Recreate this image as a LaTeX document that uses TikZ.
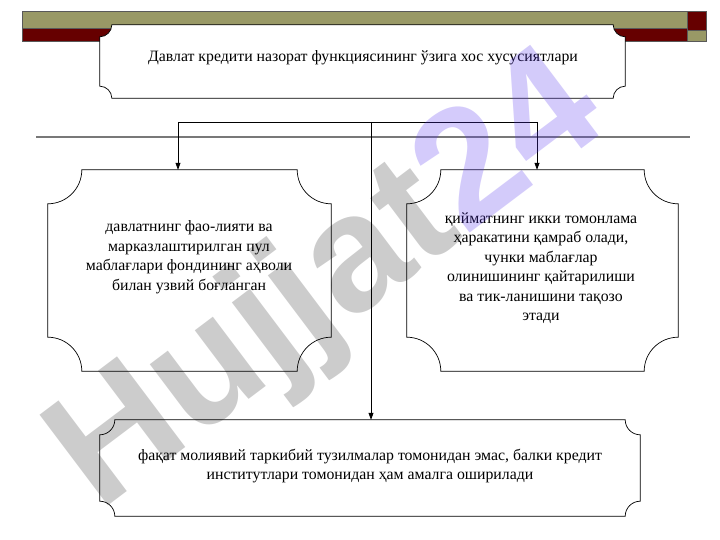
\documentclass[tikz,border=0pt]{standalone}
\usepackage{fontspec}
\setmainfont{Liberation Serif}
\newfontfamily\wmfont{Liberation Sans}
\usetikzlibrary{arrows.meta,calc}
\definecolor{olivebar}{RGB}{153,153,102}
\definecolor{darkredbar}{RGB}{102,0,0}
\definecolor{sepgray}{RGB}{120,120,120}
\definecolor{wmgray}{RGB}{0,0,0}
\definecolor{wmviolet}{RGB}{88,55,238}
\newcommand\plaqueoutline[2]{%
  \draw[plaqueline] let \p1=(#1.north west), \p2=(#1.south east) in
    (\x1,\y1-#2) arc[start angle=270,end angle=360,radius=#2]
    -- (\x2-#2,\y1) arc[start angle=180,end angle=270,radius=#2]
    -- (\x2,\y2+#2) arc[start angle=90,end angle=180,radius=#2]
    -- (\x1+#2,\y2) arc[start angle=0,end angle=90,radius=#2]
    -- cycle;}
\begin{document}
\begin{tikzpicture}[x=1pt,y=1pt,
  boxarea/.style={rectangle,inner sep=0pt,draw=none},
  plaqueline/.style={draw=black,line width=0.7pt,fill=white},
  txt/.style={align=center,inner sep=0pt,font=\fontsize{15.8}{19.5}\selectfont},
  conn/.style={draw=black,line width=0.7pt},
  arr/.style={conn,-{Triangle[length=7pt,width=5pt]}},
  barpart/.style={draw=black!65,line width=0.6pt}]
\useasboundingbox (0,0) rectangle (720,-540);
% top bars
\fill[olivebar,barpart] (22,-11) rectangle (687,-28);
\fill[darkredbar,barpart] (22,-28) rectangle (687,-41);
\fill[darkredbar,barpart] (687,-11) rectangle (706,-30);
\fill[olivebar,barpart] (687,-30) rectangle (706,-41);
% box areas
\node[boxarea,minimum width=525pt,minimum height=73pt] (topbox) at (362.5,-61.5) {};
\node[boxarea,minimum width=283pt,minimum height=201pt] (leftbox) at (189.5,-270.5) {};
\node[boxarea,minimum width=271pt,minimum height=201pt] (rightbox) at (542.5,-270.5) {};
\node[boxarea,minimum width=540pt,minimum height=96pt] (bottombox) at (370,-468) {};
\plaqueoutline{topbox}{12pt}
\plaqueoutline{leftbox}{34pt}
\plaqueoutline{rightbox}{34pt}
\plaqueoutline{bottombox}{15pt}
% texts
\node[txt] (toptext) at (363,-58) {Давлат кредити назорат функциясининг ўзига хос хусусиятлари};
\node[txt] (lefttext) at (189,-257) {давлатнинг фао-лияти ва\\марказлаштирилган пул\\маблағлари фондининг аҳволи\\билан узвий боғланган};
\node[txt] (righttext) at (541,-268) {қийматнинг икки томонлама\\ҳаракатини қамраб олади,\\чунки маблағлар\\олинишининг қайтарилиши\\ва тик-ланишини тақозо\\этади};
\node[txt] (bottomtext) at (370,-466) {фақат молиявий таркибий тузилмалар томонидан эмас, балки кредит\\институтлари томонидан ҳам амалга оширилади};
% separator
\coordinate (sepL) at (36,-137);
\coordinate (sepR) at (690,-137);
\draw[sepgray,line width=1.6pt] (sepL) -- (sepR);
% connectors
\coordinate (jl) at (178,-122);
\coordinate (split) at (371,-122);
\coordinate (jr) at (537,-122);
\draw[conn] (jl) -- (jr);
\draw[arr] (jl) -- (jl |- leftbox.north);
\draw[arr] (jr) -- (jr |- rightbox.north);
\draw[arr] (split) -- (split |- bottombox.north);
% watermark
\node[rotate=37,font=\wmfont\bfseries\fontsize{165}{165}\selectfont,inner sep=0pt] (wm) at (330,-285)
  {\textcolor{wmgray}{\pgfsetfillopacity{0.2}Hujjat}\textcolor{wmviolet}{\pgfsetfillopacity{0.26}24}};
\end{tikzpicture}
\end{document}
